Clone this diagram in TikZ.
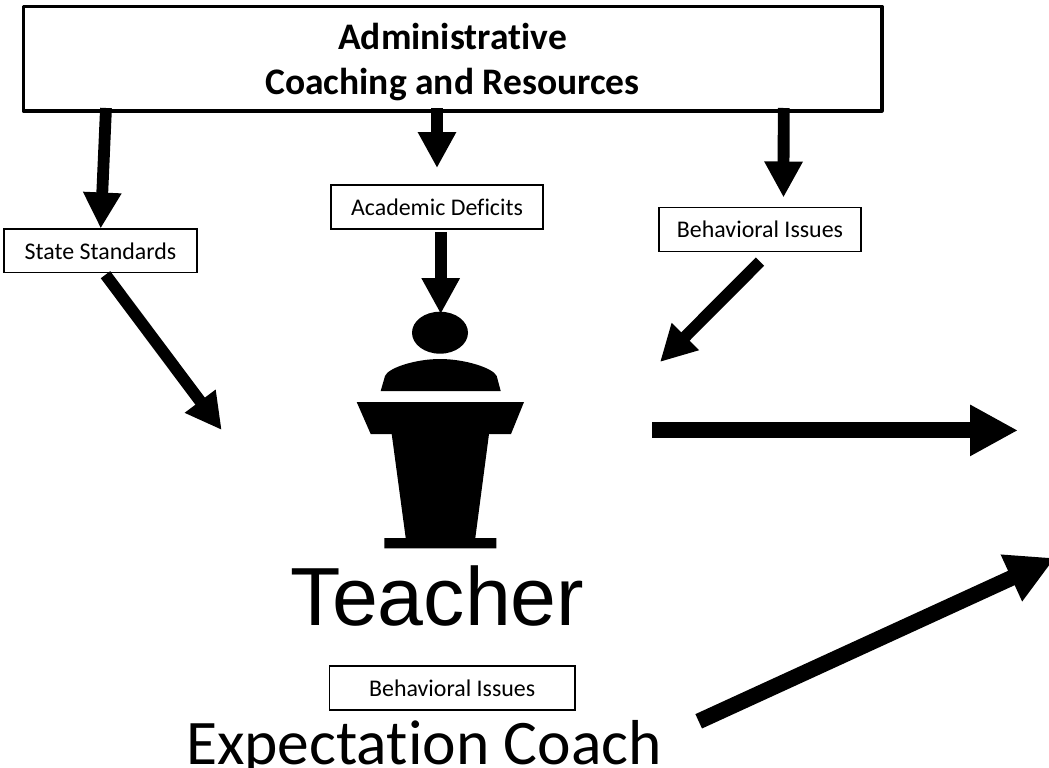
\documentclass[tikz,border=0pt]{standalone}
\usepackage{fontspec}
\setmainfont{Carlito}[Ligatures=CommonOff]
\newfontfamily\arialf{Liberation Sans}
\usetikzlibrary{arrows.meta}
\tikzset{
  x=1pt,y=-1pt,
  smallbox/.style={draw=black,line width=1.5pt,fill=white,inner sep=0pt,font=\fontsize{23.9}{28}\selectfont},
  bigbox/.style={draw=black,line width=3.6pt,fill=white,inner sep=0pt,line join=round},
  biglabel/.style={inner sep=0pt,align=center,font=\fontsize{37.5}{45.5}\selectfont\bfseries},
  fat/.style={line width=11.8pt,-{Triangle[length=36pt,width=36pt]}},
  fatter/.style={line width=16pt,-{Triangle[length=48pt,width=48pt]}},
}
\begin{document}
\begin{tikzpicture}
\useasboundingbox (0,0) rectangle (1049,768);
\node[bigbox,minimum width=858.4pt,minimum height=104.5pt] (admin) at (452.5,58.7) {};
\node[biglabel] (adminlabel) at (452.5,61.85) {Administrative\\Coaching and Resources};
\node[smallbox,minimum width=193pt,minimum height=43.5pt] (state) at (100.5,250.8) {State Standards};
\node[smallbox,minimum width=212pt,minimum height=44pt] (acad) at (437,207) {Academic Deficits};
\node[smallbox,minimum width=201.7pt,minimum height=44pt] (beh) at (760,229.5) {Behavioral Issues};
\node[smallbox,minimum width=245.7pt,minimum height=44.3pt] (beh2) at (452.2,688) {Behavioral Issues};
\node[inner sep=0pt,font=\arialf\fontsize{82.5}{90}\selectfont] (teacher) at (437.5,596) {Teacher};
\node[inner sep=0pt,font=\fontsize{63.5}{70}\selectfont] (coach) at (424,748) {Expectation Coach};
% speaker
\fill (440,332.7) ellipse [x radius=28, y radius=21];
\fill (380.7,391) -- (385,376) .. controls (388,368) and (415,359) .. (440,359) .. controls (465,359) and (493,368) .. (496.7,376) -- (500.7,391) -- cycle;
\fill (356.7,402) -- (524,402) -- (511,434) -- (489,434) -- (475.3,538) -- (496.3,538) -- (496.3,548.3) -- (384.3,548.3) -- (384.3,538) -- (405.7,538) -- (391.7,434) -- (370.7,434) -- cycle;
% connectors
\coordinate (a1) at (106,108); \coordinate (a1e) at (100.7,228.5);
\coordinate (a2) at (437,108); \coordinate (a2e) at (437,168);
\coordinate (a3) at (783.7,108); \coordinate (a3e) at (783.5,197.5);
\coordinate (a4) at (440.7,232); \coordinate (a4e) at (440.7,314);
\coordinate (a5) at (105.5,274.7); \coordinate (a5e) at (221.7,430);
\coordinate (a6) at (760,261.6); \coordinate (a6e) at (660,362);
\coordinate (a7) at (652,430.4); \coordinate (a7e) at (1018,430.4);
\coordinate (a8) at (698.7,721.3); \coordinate (a8e) at (1055,558);
\draw[fat] (a1) -- (a1e);
\draw[fat] (a2) -- (a2e);
\draw[fat] (a3) -- (a3e);
\draw[fat] (a4) -- (a4e);
\draw[fat] (a5) -- (a5e);
\draw[fat] (a6) -- (a6e);
\draw[fatter] (a7) -- (a7e);
\draw[line width=15.8pt,-{Triangle[length=48pt,width=48pt]}] (a8) -- (a8e);
\end{tikzpicture}
\end{document}
